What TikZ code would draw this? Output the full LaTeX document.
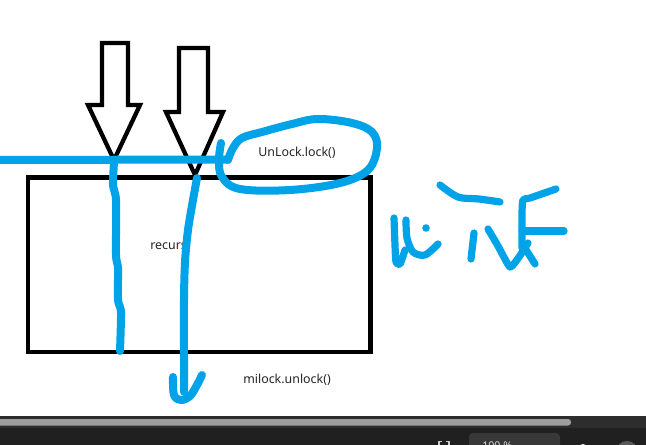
\documentclass[tikz,border=0pt]{standalone}
\usepackage{fontspec}
\setmainfont{Noto Sans}
\definecolor{paintblue}{RGB}{0,162,232}
\definecolor{barA}{RGB}{45,45,45}
\definecolor{barB}{RGB}{32,32,32}
\definecolor{scroll}{RGB}{158,158,158}
\tikzset{
  blk/.style={draw=black, line width=3.2pt, line join=miter},
  bpen/.style={draw=paintblue, line width=6pt, line cap=round, line join=round},
  hpen/.style={draw=paintblue, line width=5.4pt, line cap=round, line join=round},
  lbl/.style={font=\fontsize{9.3}{11}\selectfont, text=black!85, inner sep=0pt},
}
\begin{document}
\begin{tikzpicture}[x=0.75pt, y=-0.75pt]
\useasboundingbox (0,0) rectangle (646,445);
\clip (0,0) rectangle (646,445);
\fill[white] (0,0) rectangle (646,445);

% rectangle
\draw[blk, line width=3.6pt] (28,177.5) rectangle (370.5,352);

% black hollow arrows
\draw[blk] (102,43) -- (128,43) -- (128,105) -- (140,105) -- (114,160) -- (88,105) -- (102,105) -- cycle;
\draw[blk] (179,48) -- (208,48) -- (208,112) -- (223,112) -- (195,175) -- (166,112) -- (179,112) -- cycle;

% labels
\node[lbl] (lock) at (297,153) {UnLock.lock()};
\node[lbl, anchor=west] (rec) at (150,246) {recurs};
\node[lbl] (unlock) at (287,380) {milock.unlock()};

% blue strokes
\draw[bpen] (0,160) -- (228,159.5);
\draw[bpen] plot[smooth, tension=0.6] coordinates {(221,143) (219,160) (222,177) (240,189) (290,190) (340,183) (368,170) (377,148) (372,132) (352,123) (318,119) (292,124) (262,132) (242,138) (233,148) (228,160)};
\draw[bpen] plot[smooth, tension=0.4] coordinates {(114,162) (113,185) (116,200) (116,255) (118,268) (118,300) (121,312) (120,351)};
\draw[bpen] plot[smooth, tension=0.5] coordinates {(197,178) (193,200) (188,230) (185,262) (184,300) (184,360) (184,392)};
\draw[bpen] plot[smooth, tension=0.6] coordinates {(173,377) (174,395) (181,400) (190,396) (197,385) (202,375)};

% handwriting scribble
\draw[hpen] plot[smooth, tension=0.4] coordinates {(394,218) (395,245) (396,262) (400,264) (405,250)};
\draw[hpen] plot[smooth, tension=0.5] coordinates {(406,220) (407,238) (413,252) (425,255) (438,244)};
\fill[paintblue] (426,228) circle (3.8);
\draw[hpen] plot[smooth, tension=0.5] coordinates {(440,185) (458,197) (479,199) (500,202)};
\draw[hpen] (474,233) -- (471,259);
\draw[hpen] plot[smooth, tension=0.3] coordinates {(488,229) (498,246) (510,267) (519,257) (528,243)};
\draw[hpen] (523,245) -- (535,264);
\draw[hpen] plot[smooth, tension=0.4] coordinates {(522,248) (522,215) (523,200) (530,198) (556,189)};
\draw[hpen] (522,231) -- (564,231);

% window bottom bar
\fill[barA] (0,416) rectangle (646,428);
\fill[barB] (0,428) rectangle (646,445);
\fill[scroll, rounded corners=2.2pt] (-5,419) rectangle (571,425.5);
\fill[black!78, rounded corners=3pt] (469,433) rectangle (560,450);
\node[font=\fontsize{8}{9}\selectfont\bfseries, text=white!85!black, anchor=north west, inner sep=0pt] (zoom) at (482,441.5) {100 \%};
\draw[white!80!black, line width=0.8pt] (439,446) -- (439,441.5) -- (442,441.5) (446,441.5) -- (449,441.5) -- (449,446);
\draw[white!85!black, line width=0.9pt] (583,450) circle (5.5);
\fill[black!65] (627,452) circle (11);
\fill[paintblue!80!white] (627,452) circle (6.5);
\end{tikzpicture}
\end{document}
